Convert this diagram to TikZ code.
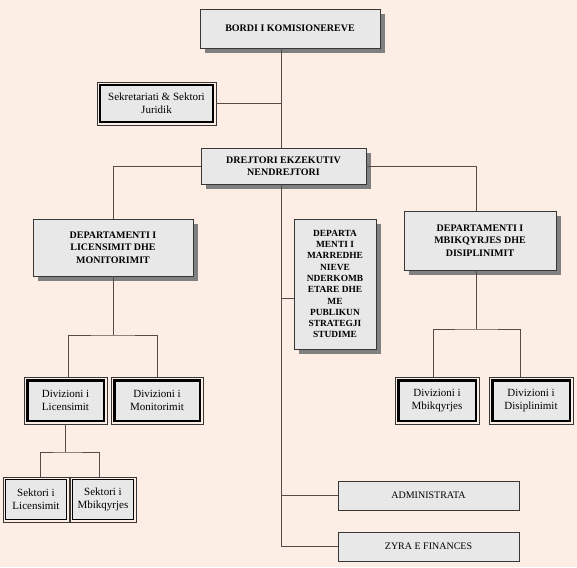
\documentclass[tikz,border=0pt]{standalone}
\usepackage{fontspec}
\setmainfont{Liberation Serif}
\usetikzlibrary{shadows,calc}
\definecolor{peach}{RGB}{253,238,229}
\definecolor{boxgray}{RGB}{232,232,232}
\definecolor{shadegray}{RGB}{128,128,128}
\definecolor{linkgray}{RGB}{88,74,68}
\definecolor{rimgray}{RGB}{55,55,55}
\tikzset{
  orgbox/.style={draw=rimgray,line width=0.8pt,fill=boxgray,align=center,inner sep=1pt},
  headbox/.style={orgbox,font=\bfseries\fontsize{10}{12.5}\selectfont,
    drop shadow={shadow xshift=5pt,shadow yshift=-5pt,fill=shadegray,opacity=1}},
  listbox/.style={orgbox,font=\fontsize{10}{12}\selectfont,
    drop shadow={shadow xshift=1.2pt,shadow yshift=-1.2pt,fill=rimgray,opacity=1}},
  plainbox/.style={orgbox,font=\fontsize{11}{13}\selectfont},
  divbox/.style={plainbox,draw=black,line width=2.6pt,outer sep=3.2pt},
  sekrbox/.style={plainbox,draw=black,line width=1.6pt,outer sep=2.8pt},
  sektbox/.style={plainbox,draw=black,line width=0.9pt,outer sep=2.2pt},
  rim/.style={draw=rimgray,line width=0.7pt},
  link/.style={draw=linkgray,line width=0.9pt}
}

\begin{document}
\begin{tikzpicture}[x=1pt,y=-1pt]
  \fill[peach] (0,0) rectangle (577,567);
  \useasboundingbox (0,0) rectangle (577,567);

  \node[headbox,minimum width=180,minimum height=39] (bordi) at (290,28.5) {BORDI I KOMISIONEREVE};
  \node[sekrbox,minimum width=113.4,minimum height=37.4] (sekr) at (156.5,103.5) {Sekretariati \& Sektori\\Juridik};
  \node[headbox,minimum width=165,minimum height=36] (drejt) at (283.5,166) {DREJTORI EKZEKUTIV\\NENDREJTORI};

  \node[headbox,minimum width=160,minimum height=57] (deplic) at (113,247.5) {DEPARTAMENTI I\\LICENSIMIT DHE\\MONITORIMIT};
  \node[headbox,font=\bfseries\fontsize{9.4}{11.3}\selectfont,minimum width=82,minimum height=130] (depmar) at (335,284)
    {DEPARTA\\MENTI I\\MARREDHE\\NIEVE\\NDERKOMB\\ETARE DHE\\ME\\PUBLIKUN\\STRATEGJI\\STUDIME};
  \node[headbox,minimum width=152,minimum height=59] (depmbi) at (480,240.5) {DEPARTAMENTI I\\MBIKQYRJES DHE\\DISIPLINIMIT};

  \node[divbox,minimum width=76.6,minimum height=40.6] (divlic) at (65.5,400.5) {Divizioni i\\Licensimit};
  \node[divbox,minimum width=85.6,minimum height=40.6] (divmon) at (157,400.5) {Divizioni i\\Monitorimit};
  \node[divbox,minimum width=77.6,minimum height=40.6] (divmbi) at (437,400.5) {Divizioni i\\Mbikqyrjes};
  \node[divbox,minimum width=77.6,minimum height=40.6] (divdis) at (531,400.5) {Divizioni i\\Disiplinimit};

  \node[sektbox,minimum width=61.6,minimum height=40.6] (seklic) at (36,499.5) {Sektori i\\Licensimit};
  \node[sektbox,minimum width=61.6,minimum height=40.6] (sekmbi) at (103,499.5) {Sektori i\\Mbikqyrjes};

  \node[listbox,minimum width=181,minimum height=29] (admin) at (428.5,495.5) {ADMINISTRATA};
  \node[listbox,minimum width=181,minimum height=29] (zyra) at (428.5,546.5) {ZYRA E FINANCES};

  \foreach \n in {sekr,divlic,divmon,divmbi,divdis,seklic,sekmbi}
    \draw[rim] (\n.south west) rectangle (\n.north east);

  \coordinate (trunk) at (281,0);
  \coordinate (marlink) at ([yshift=-14pt]depmar.west);
  \coordinate (licfork) at (113,335);
  \coordinate (sekfork) at (divlic.south |- 0,452);
  \coordinate (mbifork) at (476,329);

  \draw[link] (bordi.south -| trunk) -- (drejt.north -| trunk);
  \draw[link] (sekr.east) -- (sekr.east -| trunk);
  \draw[link] (drejt.west) -| (deplic.north);
  \draw[link] (drejt.east) -| ([xshift=-4pt]depmbi.north);
  \draw[link] (drejt.south -| trunk) |- (zyra.west);
  \draw[link] (admin.west) -- (admin.west -| trunk);
  \draw[link] (marlink) -- (marlink -| trunk);
  \draw[link] (deplic.south) -- (licfork);
  \draw[link] ([xshift=3pt]divlic.north) |- (licfork) -| (divmon.north);
  \draw[link] (divlic.south) -- (sekfork);
  \draw[link] ([xshift=4pt]seklic.north) |- (sekfork) -| ([xshift=-4pt]sekmbi.north);
  \draw[link] ([xshift=-4pt]depmbi.south) -- (mbifork);
  \draw[link] ([xshift=-4pt]divmbi.north) |- (mbifork) -| ([xshift=-11pt]divdis.north);
\end{tikzpicture}
\end{document}
